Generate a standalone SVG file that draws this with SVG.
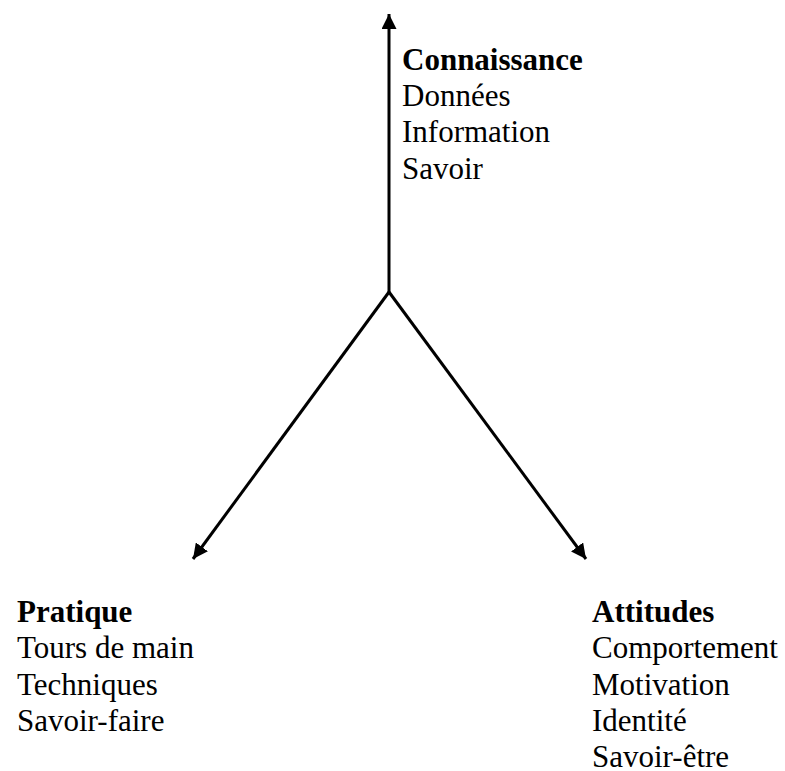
<svg xmlns="http://www.w3.org/2000/svg" width="785" height="771" viewBox="0 0 785 771">
<style>
text{font-family:"Liberation Serif","Times New Roman",serif;font-size:31px;fill:#000}
.b{font-weight:bold}
.c{stroke:#000;stroke-width:3;fill:none}
</style>
<defs>
<marker id="ah" viewBox="0 0 10 10" refX="10" refY="5" markerWidth="5" markerHeight="5" markerUnits="strokeWidth" orient="auto">
<path d="M0,0 L10,5 L0,10 z" fill="#000"/>
</marker>
</defs>
<rect width="785" height="771" fill="#fff"/>
<g id="connectors">
<line class="c" x1="389" y1="292" x2="389" y2="14" marker-end="url(#ah)"/>
<line class="c" x1="389" y1="292" x2="193" y2="559" marker-end="url(#ah)"/>
<line class="c" x1="389" y1="292" x2="586" y2="559" marker-end="url(#ah)"/>
</g>
<g id="connaissance">
<text x="402" y="70" class="b">Connaissance</text>
<text x="402" y="106">Données</text>
<text x="402" y="142">Information</text>
<text x="402" y="179">Savoir</text>
</g>
<g id="pratique">
<text x="17" y="622" class="b">Pratique</text>
<text x="17" y="658">Tours de main</text>
<text x="17" y="695">Techniques</text>
<text x="17" y="731">Savoir-faire</text>
</g>
<g id="attitudes">
<text x="592" y="622" class="b">Attitudes</text>
<text x="592" y="658">Comportement</text>
<text x="592" y="695">Motivation</text>
<text x="592" y="731">Identité</text>
<text x="592" y="767">Savoir-être</text>
</g>
</svg>
